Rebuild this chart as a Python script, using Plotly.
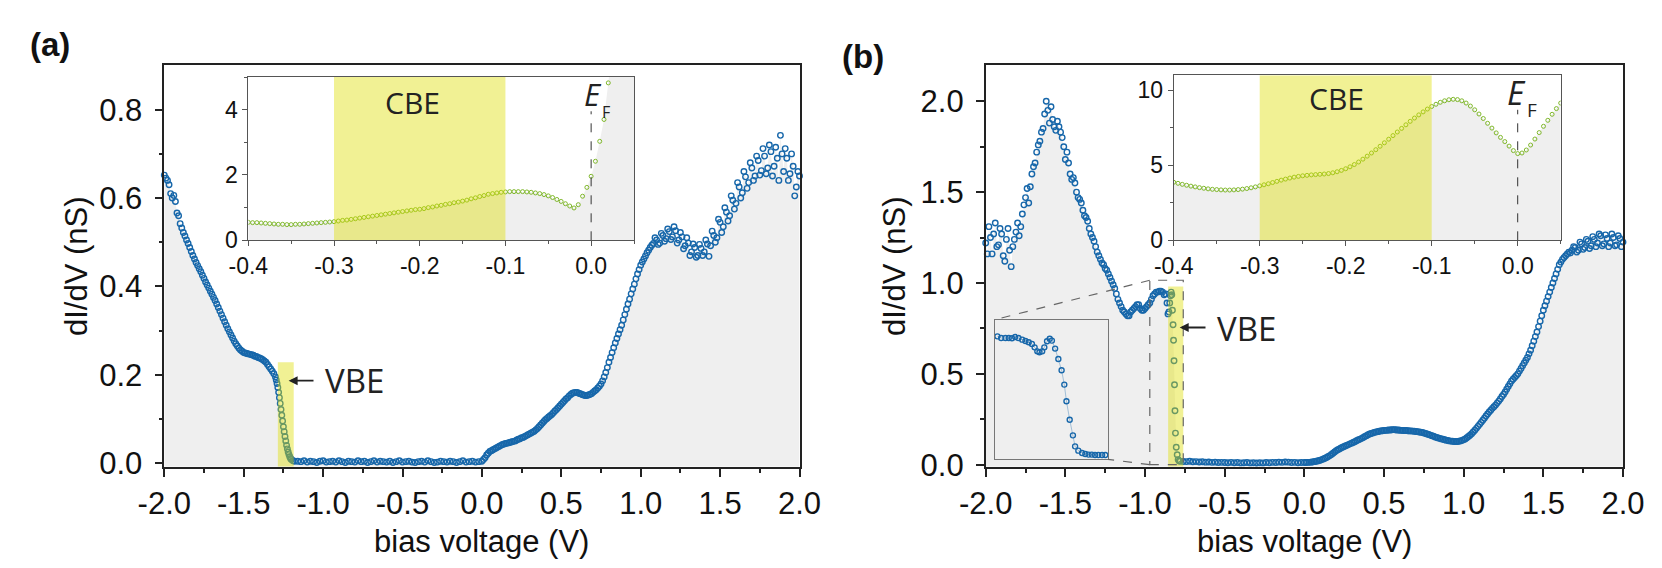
import numpy as np
import plotly.graph_objects as go

W, H = 1662, 568
FONT = "Liberation Sans, Arial, sans-serif"
LFONT = "Open Sans, Noto Sans, sans-serif"
BLUE = "#1767aa"
GREEN = "#80b82c"
GRAYFILL = "#efefef"
AX = "#222222"
YELLOW = "rgba(222,222,0,0.42)"

# ---------------- data: panel (a) main dI/dV spectrum ----------------
a_left_y = [0.652, 0.645, 0.640, 0.630, 0.610, 0.600, 0.606, 0.592, 0.566, 0.560,
            0.542, 0.532, 0.522, 0.514, 0.505, 0.497, 0.488, 0.479, 0.470, 0.462,
            0.454, 0.447, 0.440, 0.433, 0.425, 0.418, 0.410, 0.403, 0.396, 0.389,
            0.382, 0.375, 0.368, 0.360, 0.352, 0.344, 0.336, 0.328, 0.320, 0.312,
            0.304, 0.297, 0.290, 0.283, 0.276, 0.270, 0.265, 0.260, 0.256, 0.253,
            0.250, 0.249, 0.248, 0.247, 0.246, 0.245, 0.244, 0.242, 0.241, 0.239,
            0.238, 0.236, 0.234, 0.231, 0.228, 0.223, 0.218, 0.213, 0.208, 0.202]   # -2.00 ... -1.31
a_edge_x = [-1.300, -1.295, -1.290, -1.285, -1.280, -1.275, -1.270, -1.265, -1.260,
            -1.255, -1.250, -1.245, -1.240, -1.235, -1.230, -1.225, -1.220, -1.215,
            -1.210, -1.205, -1.200, -1.190, -1.180]
a_edge_y = [0.195, 0.188, 0.180, 0.171, 0.160, 0.148, 0.135, 0.121, 0.108,
            0.095, 0.082, 0.071, 0.060, 0.050, 0.040, 0.032, 0.025, 0.019,
            0.014, 0.010, 0.008, 0.005, 0.004]
a_gap_y = [0.004, 0.003, 0.005, 0.002, 0.004, 0.003, 0.001, 0.004, 0.005, 0.002,
           0.003, 0.004, 0.002, 0.005, 0.003, 0.001, 0.004, 0.003, 0.002, 0.005,
           0.003, 0.004, 0.001, 0.003, 0.005, 0.002, 0.004, 0.003, 0.002, 0.004,
           0.001, 0.003, 0.005, 0.002, 0.003, 0.004, 0.002, 0.001, 0.003, 0.004,
           0.002, 0.005, 0.003, 0.001, 0.002, 0.004, 0.003, 0.002, 0.004, 0.003,
           0.001, 0.003, 0.005, 0.002, 0.003, 0.004, 0.002, 0.003]   # -1.16 ... -0.02 (20 mV)
a_pos_y = [0.004, 0.008, 0.012, 0.018, 0.022, 0.026, 0.028, 0.030, 0.032, 0.034,
           0.036, 0.038, 0.040, 0.042, 0.043, 0.044, 0.045, 0.046, 0.047, 0.048,
           0.049, 0.050, 0.052, 0.054, 0.055, 0.057, 0.058, 0.060, 0.062, 0.064,
           0.066, 0.068, 0.070, 0.072, 0.075, 0.078, 0.082, 0.086, 0.090, 0.094,
           0.098, 0.101, 0.104, 0.107, 0.110, 0.114, 0.118, 0.121, 0.125, 0.129,
           0.133, 0.137, 0.141, 0.145, 0.148, 0.152, 0.155, 0.158, 0.159, 0.160,
           0.160, 0.158, 0.157, 0.155, 0.154, 0.153, 0.153, 0.154, 0.155, 0.157,
           0.160, 0.163, 0.166, 0.170, 0.174, 0.179, 0.186, 0.195, 0.205, 0.216,
           0.228, 0.239, 0.250, 0.261, 0.272, 0.282, 0.292, 0.302, 0.312, 0.324,
           0.336, 0.348, 0.360, 0.371, 0.383, 0.394, 0.405, 0.417, 0.428, 0.438,
           0.448, 0.455, 0.462, 0.469, 0.476, 0.482, 0.488, 0.493, 0.497, 0.510,
           0.505, 0.495, 0.498, 0.520, 0.515, 0.502, 0.508, 0.530, 0.524, 0.506,
           0.512, 0.535, 0.526, 0.498, 0.505, 0.522, 0.512, 0.485, 0.492, 0.510,
           0.498, 0.470, 0.478, 0.496, 0.488, 0.466, 0.470, 0.495, 0.486, 0.470,
           0.478, 0.505, 0.496, 0.468, 0.492, 0.525, 0.515, 0.500, 0.510, 0.552,
           0.545, 0.522, 0.535, 0.578, 0.568, 0.548, 0.560, 0.605, 0.595, 0.575,
           0.588, 0.635, 0.625, 0.600, 0.612, 0.660, 0.648, 0.622, 0.635, 0.680,
           0.668, 0.640, 0.650, 0.695, 0.685, 0.652, 0.662, 0.712, 0.695, 0.655,
           0.668, 0.720, 0.705, 0.650, 0.672, 0.715, 0.690, 0.640, 0.742, 0.700,
           0.660, 0.712, 0.690, 0.640, 0.655, 0.700, 0.672, 0.605, 0.625, 0.660,
           0.650]                                   # 0.00 ... 2.00 (10 mV)

# panel (a) inset (CBE region), bias -0.400 ... 0.050 in 5 mV steps
ain_y = [0.55, 0.54, 0.54, 0.53, 0.52, 0.51, 0.50, 0.49, 0.49, 0.48,
         0.48, 0.49, 0.49, 0.50, 0.51, 0.52, 0.53, 0.54, 0.55, 0.56,
         0.57, 0.59, 0.61, 0.62, 0.64, 0.66, 0.68, 0.70, 0.72, 0.74,
         0.76, 0.78, 0.80, 0.82, 0.84, 0.86, 0.88, 0.90, 0.92, 0.94,
         0.95, 0.97, 1.00, 1.02, 1.05, 1.07, 1.10, 1.12, 1.15, 1.17,
         1.20, 1.23, 1.27, 1.30, 1.34, 1.37, 1.41, 1.43, 1.45, 1.47,
         1.48, 1.49, 1.49, 1.49, 1.49, 1.48, 1.47, 1.45, 1.43, 1.40,
         1.36, 1.31, 1.25, 1.19, 1.12, 1.05, 0.99, 1.09, 1.35, 1.62,
         1.96, 2.42, 3.03, 3.70, 4.82, 5.90, 7.00, 8.10, 9.20, 10.30,
         11.40]

# ---------------- data: panel (b) main dI/dV spectrum ----------------
b_left_y = [1.22, 1.16, 1.31, 1.25, 1.16, 1.27, 1.33, 1.20, 1.21, 1.30,
            1.27, 1.15, 1.12, 1.24, 1.30, 1.18, 1.09, 1.20, 1.24, 1.28,
            1.33, 1.26, 1.31, 1.38, 1.43, 1.47, 1.52, 1.44, 1.53, 1.60,
            1.64, 1.66, 1.72, 1.76, 1.78, 1.83, 1.85, 1.93, 2.00, 1.95,
            1.88, 1.97, 1.90, 1.86, 1.84, 1.89, 1.86, 1.83, 1.80, 1.75,
            1.68, 1.72, 1.66, 1.60, 1.57, 1.58, 1.55, 1.50, 1.47, 1.46,
            1.44, 1.40, 1.37, 1.36, 1.34, 1.30, 1.27, 1.25, 1.23, 1.20,
            1.17, 1.15, 1.13, 1.11, 1.10, 1.08, 1.07, 1.05, 1.03, 1.01,
            0.99, 0.97, 0.94, 0.91, 0.89, 0.87, 0.85, 0.84, 0.83, 0.82,
            0.82, 0.84, 0.85, 0.86, 0.87, 0.88, 0.88, 0.86, 0.85, 0.85,
            0.86, 0.87, 0.88, 0.89, 0.91, 0.93, 0.94, 0.95, 0.95, 0.955,
            0.955]                                  # -2.00 ... -0.90 (10 mV)
b_edge_x = [-0.890, -0.880, -0.870, -0.862, -0.856, -0.850, -0.845, -0.840, -0.836,
            -0.832, -0.828, -0.824, -0.821, -0.818, -0.815, -0.812, -0.809, -0.804,
            -0.798, -0.792, -0.786, -0.780]
b_edge_y = [0.950, 0.935, 0.940, 0.890, 0.830, 0.840, 0.890, 0.930, 0.950,
            0.935, 0.850, 0.770, 0.685, 0.572, 0.440, 0.297, 0.174, 0.096,
            0.055, 0.028, 0.021, 0.019]
b_gap_y = [0.018, 0.017, 0.019, 0.016, 0.017, 0.015, 0.016, 0.014, 0.015, 0.013,
           0.014, 0.012, 0.013, 0.012, 0.011, 0.013, 0.011, 0.012, 0.010, 0.011,
           0.012, 0.010, 0.011, 0.009, 0.011, 0.010, 0.012, 0.011, 0.013, 0.012,
           0.014, 0.013, 0.015, 0.014, 0.012, 0.013, 0.011, 0.012]   # -0.76 ... -0.02 (20 mV)
b_pos_y = [0.012, 0.012, 0.013, 0.013, 0.014, 0.015, 0.017, 0.018, 0.020, 0.022,
           0.025, 0.028, 0.032, 0.036, 0.040, 0.045, 0.050, 0.056, 0.063, 0.070,
           0.077, 0.082, 0.087, 0.092, 0.096, 0.100, 0.104, 0.108, 0.112, 0.116,
           0.120, 0.124, 0.128, 0.133, 0.137, 0.141, 0.145, 0.150, 0.155, 0.160,
           0.165, 0.169, 0.172, 0.175, 0.178, 0.180, 0.182, 0.184, 0.186, 0.187,
           0.188, 0.189, 0.190, 0.191, 0.191, 0.192, 0.193, 0.192, 0.191, 0.191,
           0.190, 0.189, 0.188, 0.188, 0.188, 0.187, 0.186, 0.186, 0.185, 0.184,
           0.183, 0.182, 0.180, 0.179, 0.177, 0.175, 0.172, 0.169, 0.166, 0.163,
           0.160, 0.157, 0.153, 0.150, 0.147, 0.145, 0.142, 0.140, 0.137, 0.135,
           0.133, 0.131, 0.130, 0.129, 0.128, 0.128, 0.128, 0.129, 0.131, 0.134,
           0.137, 0.142, 0.148, 0.155, 0.162, 0.171, 0.180, 0.190, 0.200, 0.211,
           0.222, 0.233, 0.245, 0.256, 0.268, 0.279, 0.290, 0.300, 0.310, 0.319,
           0.328, 0.339, 0.350, 0.362, 0.375, 0.387, 0.400, 0.415, 0.430, 0.445,
           0.460, 0.470, 0.480, 0.490, 0.500, 0.515, 0.530, 0.545, 0.560, 0.575,
           0.590, 0.610, 0.630, 0.655, 0.680, 0.705, 0.730, 0.760, 0.790, 0.820,
           0.850, 0.875, 0.900, 0.925, 0.950, 0.975, 1.000, 1.025, 1.050, 1.075,
           1.100, 1.115, 1.130, 1.140, 1.150, 1.160, 1.170, 1.165, 1.180, 1.200,
           1.195, 1.170, 1.180, 1.225, 1.215, 1.185, 1.195, 1.240, 1.230, 1.190,
           1.205, 1.255, 1.240, 1.200, 1.220, 1.270, 1.260, 1.205, 1.215, 1.265,
           1.245, 1.200, 1.220, 1.270, 1.250, 1.205, 1.210, 1.260, 1.245, 1.200,
           1.225]                                   # 0.00 ... 2.00 (10 mV)

# panel (b) inset (CBE region), bias -0.400 ... 0.050 in 5 mV steps
bin_y = [3.87, 3.80, 3.73, 3.67, 3.61, 3.56, 3.51, 3.47, 3.43, 3.40,
         3.38, 3.36, 3.35, 3.35, 3.36, 3.38, 3.41, 3.45, 3.50, 3.56,
         3.63, 3.70, 3.77, 3.85, 3.93, 4.01, 4.08, 4.15, 4.21, 4.26,
         4.30, 4.33, 4.36, 4.38, 4.40, 4.42, 4.45, 4.50, 4.57, 4.66,
         4.77, 4.90, 5.05, 5.22, 5.41, 5.61, 5.82, 6.04, 6.27, 6.50,
         6.74, 6.98, 7.22, 7.46, 7.70, 7.93, 8.15, 8.36, 8.56, 8.75,
         8.92, 9.07, 9.20, 9.30, 9.37, 9.40, 9.38, 9.30, 9.15, 8.95,
         8.70, 8.42, 8.12, 7.80, 7.48, 7.16, 6.86, 6.58, 6.28, 5.98,
         5.78, 5.82, 6.02, 6.35, 6.75, 7.18, 7.60, 8.00, 8.40, 8.78,
         9.15]

# panel (b) magnified view of the VBE onset
mag_x = [-0.965, -0.958, -0.950, -0.944, -0.938, -0.932, -0.926, -0.919, -0.913, -0.907,
         -0.901, -0.896, -0.891, -0.887, -0.882, -0.878, -0.873, -0.868, -0.864, -0.858,
         -0.852, -0.846, -0.841, -0.837, -0.831, -0.825, -0.821, -0.815, -0.808, -0.802,
         -0.796, -0.790, -0.784, -0.778, -0.771, -0.765]
mag_y = [0.894, 0.882, 0.882, 0.882, 0.880, 0.889, 0.882, 0.870, 0.860, 0.851,
         0.839, 0.814, 0.785, 0.778, 0.785, 0.814, 0.858, 0.877, 0.863, 0.805,
         0.729, 0.647, 0.543, 0.422, 0.288, 0.174, 0.094, 0.063, 0.046, 0.039,
         0.034, 0.034, 0.031, 0.031, 0.031, 0.031]

# ticks
main_xticks = [-2.0, -1.5, -1.0, -0.5, 0.0, 0.5, 1.0, 1.5, 2.0]
main_xlabels = ["-2.0", "-1.5", "-1.0", "-0.5", "0.0", "0.5", "1.0", "1.5", "2.0"]
main_xminor = [-1.75, -1.25, -0.75, -0.25, 0.25, 0.75, 1.25, 1.75]
a_yticks = [0.0, 0.2, 0.4, 0.6, 0.8]
a_ylabels = ["0.0", "0.2", "0.4", "0.6", "0.8"]
a_yminor = [0.1, 0.3, 0.5, 0.7]
b_yticks = [0.0, 0.5, 1.0, 1.5, 2.0]
b_ylabels = ["0.0", "0.5", "1.0", "1.5", "2.0"]
b_yminor = [0.25, 0.75, 1.25, 1.75]
in_xticks = [-0.4, -0.3, -0.2, -0.1, 0.0]
in_xlabels = ["-0.4", "-0.3", "-0.2", "-0.1", "0.0"]
in_xminor = [-0.35, -0.25, -0.15, -0.05, 0.05]
ain_yticks = [0, 2, 4]
ain_ylabels = ["0", "2", "4"]
ain_yminor = [1, 3, 5]
bin_yticks = [0, 5, 10]
bin_ylabels = ["0", "5", "10"]
bin_yminor = [2.5, 7.5]


def sweep(start, n, step):
    return np.round(start + step * np.arange(n), 4)


a_x = np.concatenate([sweep(-2.0, len(a_left_y), 0.01), a_edge_x,
                      sweep(-1.16, len(a_gap_y), 0.02), sweep(0.0, len(a_pos_y), 0.01)])
a_y = np.concatenate([a_left_y, a_edge_y, a_gap_y, a_pos_y])
b_x = np.concatenate([sweep(-2.0, len(b_left_y), 0.01), b_edge_x,
                      sweep(-0.76, len(b_gap_y), 0.02), sweep(0.0, len(b_pos_y), 0.01)])
b_y = np.concatenate([b_left_y, b_edge_y, b_gap_y, b_pos_y])
ain_x = sweep(-0.4, len(ain_y), 0.005)
bin_x = sweep(-0.4, len(bin_y), 0.005)

# ---------------- layout geometry (pixels) ----------------
A_X0, A_X1 = 156.3, 791.5
B_X0, B_X1 = 977.7, 1615.0
M_T, M_B = 57.3, 458.7
AIN = (240.3, 626.0, 69.0, 232.3)
BIN = (1165.7, 1552.7, 67.3, 232.3)
MAG = (986.7, 1100.0, 311.7, 451.3)
A_YR = [-0.0084, 0.9006]
B_YR = [-0.011, 2.198]
IN_XR = [-0.4, 0.05]


def xd(l, r):
    return [l / W, r / W]


def yd(t, b):
    return [1 - b / H, 1 - t / H]


def P(px, py):
    return px / W, 1 - py / H


fig = go.Figure()

MK_MAIN = dict(symbol="circle-open", size=5.5, color=BLUE, line=dict(width=1.4, color=BLUE))
MK_IN = dict(symbol="circle-open", size=4, color=GREEN, line=dict(width=1, color=GREEN))

# panel (a)
fig.add_trace(go.Scatter(x=[-2, 2], y=[A_YR[0], A_YR[0]], mode="lines", line=dict(width=0),
                         hoverinfo="skip", showlegend=False, xaxis="x", yaxis="y"))
fig.add_trace(go.Scatter(x=a_x, y=a_y, mode="lines", line=dict(width=0), fill="tonexty",
                         fillcolor=GRAYFILL, hoverinfo="skip", showlegend=False, xaxis="x", yaxis="y"))
fig.add_trace(go.Scatter(x=a_x, y=a_y, mode="markers", cliponaxis=False, showlegend=False,
                         marker=MK_MAIN, xaxis="x", yaxis="y"))
# panel (b)
fig.add_trace(go.Scatter(x=[-2, 2], y=[B_YR[0], B_YR[0]], mode="lines", line=dict(width=0),
                         hoverinfo="skip", showlegend=False, xaxis="x2", yaxis="y2"))
fig.add_trace(go.Scatter(x=b_x, y=b_y, mode="lines", line=dict(width=0), fill="tonexty",
                         fillcolor=GRAYFILL, hoverinfo="skip", showlegend=False, xaxis="x2", yaxis="y2"))
fig.add_trace(go.Scatter(x=b_x, y=b_y, mode="markers", cliponaxis=False, showlegend=False,
                         marker=MK_MAIN, xaxis="x2", yaxis="y2"))
# insets
fig.add_trace(go.Scatter(x=ain_x, y=ain_y, mode="lines", line=dict(width=0), fill="tozeroy",
                         fillcolor=GRAYFILL, hoverinfo="skip", showlegend=False, xaxis="x3", yaxis="y3"))
fig.add_trace(go.Scatter(x=ain_x, y=ain_y, mode="markers", showlegend=False, marker=MK_IN,
                         xaxis="x3", yaxis="y3"))
fig.add_trace(go.Scatter(x=bin_x, y=bin_y, mode="lines", line=dict(width=0), fill="tozeroy",
                         fillcolor=GRAYFILL, hoverinfo="skip", showlegend=False, xaxis="x4", yaxis="y4"))
fig.add_trace(go.Scatter(x=bin_x, y=bin_y, mode="markers", showlegend=False, marker=MK_IN,
                         xaxis="x4", yaxis="y4"))
# magnified view
fig.add_trace(go.Scatter(x=mag_x, y=mag_y, mode="lines+markers", showlegend=False,
                         line=dict(width=0.8, color="rgba(23,103,170,0.45)"),
                         marker=dict(symbol="circle-open", size=5, color=BLUE, line=dict(width=1.4, color=BLUE)),
                         xaxis="x5", yaxis="y5"))


def main_axis(dom, rng, tv, tt, mv, anchor, standoff):
    return dict(domain=dom, range=rng, anchor=anchor, showline=True, linecolor=AX, linewidth=1.6,
                mirror=True, ticks="outside", ticklen=8, tickwidth=1.5, tickcolor=AX,
                tickvals=tv, ticktext=tt, tickfont=dict(family=FONT, size=31, color="#111"),
                ticklabelstandoff=standoff,
                minor=dict(ticks="outside", ticklen=4, tickwidth=1.5, tickcolor=AX, tickvals=mv, showgrid=False),
                showgrid=False, zeroline=False, automargin=False, fixedrange=True)


def inset_axis(dom, rng, tv, tt, mv, anchor):
    return dict(domain=dom, range=rng, anchor=anchor, showline=True, linecolor="#555", linewidth=1,
                mirror=True, ticks="outside", ticklen=5, tickwidth=1, tickcolor="#555",
                tickvals=tv, ticktext=tt, tickfont=dict(family=FONT, size=23, color="#111"),
                minor=dict(ticks="outside", ticklen=3, tickwidth=1, tickcolor="#555", tickvals=mv, showgrid=False),
                showgrid=False, zeroline=False, automargin=False, fixedrange=True)


layout = dict(
    width=W, height=H, margin=dict(l=0, r=0, t=0, b=0, pad=0), template="none",
    paper_bgcolor="white", plot_bgcolor="rgba(0,0,0,0)", showlegend=False,
    xaxis=main_axis(xd(A_X0, A_X1), [-2, 2], main_xticks, main_xlabels, main_xminor, "y", 0),
    yaxis=main_axis(yd(M_T, M_B), A_YR, a_yticks, a_ylabels, a_yminor, "x", 6),
    xaxis2=main_axis(xd(B_X0, B_X1), [-2, 2], main_xticks, main_xlabels, main_xminor, "y2", 0),
    yaxis2=main_axis(yd(M_T, M_B), B_YR, b_yticks, b_ylabels, b_yminor, "x2", 6),
    xaxis3=inset_axis(xd(AIN[0], AIN[1]), IN_XR, in_xticks, in_xlabels, in_xminor, "y3"),
    yaxis3=inset_axis(yd(AIN[2], AIN[3]), [0, 5], ain_yticks, ain_ylabels, ain_yminor, "x3"),
    xaxis4=inset_axis(xd(BIN[0], BIN[1]), IN_XR, in_xticks, in_xlabels, in_xminor, "y4"),
    yaxis4=inset_axis(yd(BIN[2], BIN[3]), [0, 11], bin_yticks, bin_ylabels, bin_yminor, "x4"),
    xaxis5=dict(domain=xd(MAG[0], MAG[1]), range=[-0.97, -0.76], anchor="y5", showline=True,
                linecolor="#777", linewidth=1, mirror=True, ticks="", showticklabels=False,
                showgrid=False, zeroline=False, automargin=False, fixedrange=True),
    yaxis5=dict(domain=yd(MAG[2], MAG[3]), range=[0, 1.015], anchor="x5", showline=True,
                linecolor="#777", linewidth=1, mirror=True, ticks="", showticklabels=False,
                showgrid=False, zeroline=False, automargin=False, fixedrange=True),
)
fig.update_layout(**layout)

shapes = []
# highlighted bands
shapes.append(dict(type="rect", xref="x", yref="y", x0=-1.285, x1=-1.185, y0=A_YR[0], y1=0.228,
                   fillcolor=YELLOW, line=dict(width=0), layer="above"))
shapes.append(dict(type="rect", xref="x2", yref="y2", x0=-0.855, x1=-0.76, y0=B_YR[0], y1=0.98,
                   fillcolor=YELLOW, line=dict(width=0), layer="above"))
shapes.append(dict(type="rect", xref="x3", yref="y3", x0=-0.3, x1=-0.1, y0=0, y1=5,
                   fillcolor=YELLOW, line=dict(width=0), layer="above"))
shapes.append(dict(type="rect", xref="x4", yref="y4", x0=-0.3, x1=-0.1, y0=0, y1=11,
                   fillcolor=YELLOW, line=dict(width=0), layer="above"))
# Fermi level markers
shapes.append(dict(type="line", xref="x3", yref="y3", x0=0, x1=0, y0=0, y1=3.95,
                   line=dict(color="#333", width=1, dash="dash"), layer="above"))
shapes.append(dict(type="line", xref="x4", yref="y4", x0=0, x1=0, y0=0, y1=8.7,
                   line=dict(color="#333", width=1, dash="dash"), layer="above"))
# zoom box in panel (b)
BOX = (-0.97, -0.76, 0.0, 1.015)
shapes.append(dict(type="rect", xref="x2", yref="y2", x0=BOX[0], x1=BOX[1], y0=BOX[2], y1=BOX[3],
                   line=dict(color="#666", width=1.2, dash="dash"), fillcolor="rgba(0,0,0,0)", layer="above"))


def b_px(x, y):
    px = B_X0 + (x + 2) / 4 * (B_X1 - B_X0)
    py = M_B - (y - B_YR[0]) / (B_YR[1] - B_YR[0]) * (M_B - M_T)
    return px, py


for (bx, by), (mx, my) in [((BOX[0], BOX[3]), (MAG[0], MAG[2])), ((BOX[0], BOX[2]), (MAG[1], MAG[3]))]:
    p0 = P(*b_px(bx, by))
    p1 = P(mx, my)
    shapes.append(dict(type="line", xref="paper", yref="paper", x0=p0[0], y0=p0[1], x1=p1[0], y1=p1[1],
                       line=dict(color="#666", width=1.2, dash="dash"), layer="above"))
fig.update_layout(shapes=shapes)


def txt(px, py, text, size, family=FONT, xanchor="center", angle=0, color="#111"):
    x, y = P(px, py)
    fig.add_annotation(x=x, y=y, xref="paper", yref="paper", text=text, showarrow=False,
                       xanchor=xanchor, yanchor="middle", textangle=angle,
                       font=dict(family=family, size=size, color=color))


def arrow(tip, tail):
    x, y = P(*tip)
    fig.add_annotation(x=x, y=y, xref="paper", yref="paper", text="", showarrow=True,
                       ax=tail[0] - tip[0], ay=tail[1] - tip[1], arrowhead=2, arrowsize=1,
                       arrowwidth=1.8, arrowcolor="#222", standoff=0)


txt(41.5, 36.5, "<b>(a)</b>", 33)
txt(855.5, 48, "<b>(b)</b>", 33)
txt((A_X0 + A_X1) / 2, 533, "bias voltage (V)", 31)
txt((B_X0 + B_X1) / 2, 533, "bias voltage (V)", 31)
txt(68, (M_T + M_B) / 2, "dI/dV (nS)", 31, angle=-90)
txt(886, (M_T + M_B) / 2, "dI/dV (nS)", 31, angle=-90)
txt(404, 94, "CBE", 30, family=LFONT, color="#222")
txt(1328.5, 90.5, "CBE", 30, family=LFONT, color="#222")
txt(585, 86, "<i>E</i>", 31, family=LFONT, color="#222")
txt(598, 103.5, "F", 16, family=LFONT, color="#222")
txt(1508, 84, "<i>E</i>", 33, family=LFONT, color="#222")
txt(1524, 102, "F", 19, family=LFONT, color="#222")
txt(315, 372.7, "VBE", 33, family=LFONT, xanchor="left", color="#222")
txt(1207, 320, "VBE", 33, family=LFONT, xanchor="left", color="#222")
arrow((280.6, 372.7), (307, 372.7))
arrow((1171.7, 319.5), (1199, 319.5))

fig.write_html("out.html")
